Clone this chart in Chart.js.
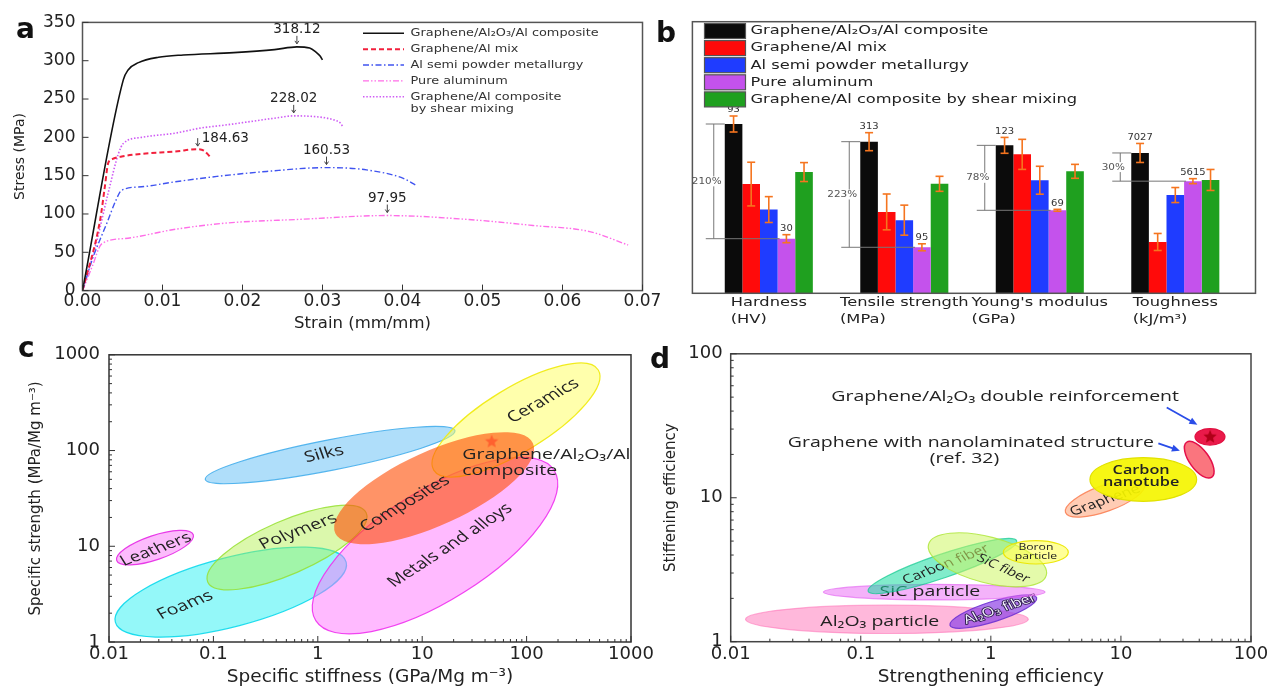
<!DOCTYPE html>
<html>
<head>
<meta charset="utf-8">
<title>Graphene/Al₂O₃/Al composite – mechanical properties</title>
<script src="https://cdn.jsdelivr.net/npm/chart.js@4.4.1/dist/chart.umd.min.js"></script>
<style>
  html, body { margin: 0; padding: 0; background: #fff; }
  body { position: relative; width: 1272px; height: 688px; overflow: hidden; }
  canvas { position: absolute; }
</style>
</head>
<body>
<canvas id="panelA" width="665" height="338" style="left:0px;top:0px"></canvas>
<canvas id="panelB" width="627" height="335" style="left:645px;top:0px"></canvas>
<canvas id="panelC" width="665" height="353" style="left:0px;top:335px"></canvas>
<canvas id="panelD" width="627" height="353" style="left:645px;top:335px"></canvas>
<script>
// ---------------- (a) stress–strain curves ----------------
const strainTicks = [0, 0.01, 0.02, 0.03, 0.04, 0.05, 0.06, 0.07];
const stressTicks = [0, 50, 100, 150, 200, 250, 300, 350];
const curveLegend = [
  ['Graphene/Al₂O₃/Al composite'],
  ['Graphene/Al mix'],
  ['Al semi powder metallurgy'],
  ['Pure aluminum'],
  ['Graphene/Al composite', 'by shear mixing']
];
const compositeStrain = [0, 0.0051, 0.0057, 0.0070, 0.0095, 0.0126, 0.0189, 0.0240, 0.0284, 0.0292, 0.0297, 0.0300];
const compositeStress = [0, 275, 288, 297.5, 304.5, 307.5, 310.5, 314.5, 316.5, 311, 306, 301];
const mixStrain = [0, 0.0022, 0.0028, 0.0032, 0.0037, 0.0049, 0.0074, 0.0116, 0.0152, 0.0157, 0.0160];
const mixStress = [0, 92, 136, 166, 171.5, 175, 178.5, 181.5, 182.5, 177.5, 174];
const semiPmStrain = [0, 0.0012, 0.0032, 0.0041, 0.0049, 0.0074, 0.0116, 0.0168, 0.0230, 0.0355, 0.0401, 0.0416];
const semiPmStress = [0, 40, 92, 116, 131, 135.5, 142, 149, 155.5, 157.5, 146.5, 138];
const pureAlStrain = [0, 0.0012, 0.0024, 0.0053, 0.0116, 0.0178, 0.0272, 0.0480, 0.0563, 0.0634, 0.0682];
const pureAlStress = [0, 31, 61, 68, 80, 88, 93, 93, 85, 77, 59.5];
const shearStrain = [0, 0.0016, 0.0032, 0.0045, 0.0051, 0.0074, 0.0116, 0.0147, 0.0178, 0.0209, 0.0240, 0.0300, 0.0315, 0.0322, 0.0326];
const shearStress = [0, 57, 127, 179, 192, 200, 205.5, 212, 216, 220.5, 225, 226, 222.5, 219, 213];
// ultimate tensile strength of each curve (same order as the legend)
const peakStrain = [0.0268, 0.0144, 0.0305, 0.0381, 0.0264];
const peakStress = [318.12, 184.63, 160.53, 97.95, 228.02];

// ---------------- (b) property comparison ----------------
const propLabels = [['Hardness', '(HV)'], ['Tensile strength', '(MPa)'], ["Young's modulus", '(GPa)'], ['Toughness', '(kJ/m³)']];
const propFullScale = [149.2, 560.7, 225.8, 13600];   // value that fills the panel height, per property
const sampleNames = ['Graphene/Al₂O₃/Al composite', 'Graphene/Al mix', 'Al semi powder metallurgy', 'Pure aluminum', 'Graphene/Al composite by shear mixing'];
const valGrapheneAl2O3Al = [93, 313, 123, 7027];
const valGrapheneAlMix = [60, 168, 115.5, 2570];
const valAlSemiPM = [46, 151, 94, 4920];
const valPureAl = [30, 95, 69, 5615];
const valShearMix = [66.6, 226, 101.4, 5675];
const errGrapheneAl2O3Al = [4.4, 18.6, 6.6, 476];
const errGrapheneAlMix = [12, 37, 12.5, 426];
const errAlSemiPM = [7.1, 31, 11.6, 376];
const errPureAl = [2.2, 7.2, 0.8, 125];
const errShearMix = [5.2, 15.5, 5.8, 526];
const gainLabels = ['210%', '223%', '78%', '30%'];

// ---------------- (c) Ashby map ----------------
const stiffTicks = [0.01, 0.1, 1, 10, 100, 1000];
const strengthTicks = [1, 10, 100, 1000];
const familyNames = ['Foams', 'Polymers', 'Leathers', 'Silks', 'Metals and alloys', 'Ceramics', 'Composites'];
const familyFrom = [[0.0115, 1.61], [0.0882, 4.24], [0.01185, 7.10], [0.0836, 49.9], [0.957, 1.67], [12.9, 62.5], [1.47, 13.7]];
const familyTo = [[1.87, 6.84], [2.91, 22.2], [0.0642, 13.2], [20.6, 161], [184, 61.8], [486, 694], [115, 119]];
const familyWidth = [0.29, 0.31, 0.30, 0.12, 0.39, 0.33, 0.34];
const familyLabelAt = [[0.0535, 2.42], [0.65, 14.3], [0.0281, 9.25], [1.15, 91.8], [18.5, 10.2], [144.5, 331], [6.84, 27.8]];
const compositePoint = [46.3, 124];
const compositeLabel = ['Graphene/Al₂O₃/Al', 'composite'];
const compositeLabelAt = [24.2, 89.7];

// ---------------- (d) reinforcement efficiency ----------------
const effXTicks = [0.01, 0.1, 1, 10, 100];
const effYTicks = [1, 10, 100];
const reinfNames = ['Al₂O₃ particle', 'Al₂O₃ fiber', 'SiC particle', 'Carbon fiber', 'SiC fiber', 'Boron\nparticle', 'Graphene', 'Carbon\nnanotube', 'Graphene with nanolaminated structure', 'Graphene/Al₂O₃ double reinforcement'];
const reinfFrom = [[0.0130, 1.43], [0.485, 1.30], [0.0516, 2.21], [0.114, 2.24], [0.332, 4.74], [1.247, 4.18], [3.75, 7.89], [5.78, 13.4], [32.0, 24.3], [37.1, 26.5]];
const reinfTo = [[1.94, 1.43], [2.25, 2.02], [2.61, 2.21], [1.58, 5.02], [2.67, 2.90], [3.94, 4.18], [15.2, 12.4], [38.2, 13.4], [50.0, 13.9], [63.1, 26.5]];
const reinfWidth = [0.10, 0.22, 0.07, 0.15, 0.377, 0.36, 0.31, 0.41, 0.45, 0.55];
const reinfLabelAt = [[0.140, 1.38], [1.175, 1.69], [0.340, 2.21], [0.451, 3.44], [1.246, 3.22], [2.22, 4.18], [7.55, 9.57], [14.3, 14.1], null, null];
const doublePoint = [48.5, 26.5];
const noteText = ['Graphene/Al₂O₃ double reinforcement', 'Graphene with nanolaminated structure', '(ref. 32)'];
const noteAt = [[1.288, 50.1], [0.702, 24.3], [0.627, 18.7]];
const arrowFrom = [[22.5, 42.4], [19.4, 23.9]];
const arrowTo = [[38.7, 32.2], [28.4, 21.2]];

// ================= drawing helpers =================
const DV = '"DejaVu Sans", sans-serif';
const OS = '"Open Sans", sans-serif';
Chart.defaults.font.family = DV;
Chart.defaults.color = '#222';
Chart.defaults.animation = false;
Chart.defaults.events = [];

// text with optional horizontal stretch (sx) and rotation (rot, on-page angle)
function txt(ctx, text, x, y, o) {
  const lines = Array.isArray(text) ? text : [text];
  const lh = o.lh || 0, sx = o.sx || 1;
  ctx.save();
  ctx.font = o.font;
  ctx.fillStyle = o.color || '#222';
  ctx.textAlign = o.align || 'center';
  ctx.textBaseline = o.base || 'middle';
  ctx.translate(x, y);
  ctx.scale(sx, 1);
  if (o.rot) ctx.rotate(Math.atan2(sx * Math.sin(o.rot), Math.cos(o.rot)));
  lines.forEach((ln, k) => {
    const dy = (k - (lines.length - 1) / 2) * lh;
    if (o.stroke) { ctx.strokeStyle = o.stroke; ctx.lineWidth = o.strokeWidth || 1; ctx.lineJoin = 'round'; ctx.strokeText(ln, 0, dy); }
    ctx.fillText(ln, 0, dy);
  });
  ctx.restore();
}
function textWidth(ctx, text, font, sx) {
  ctx.save(); ctx.font = font; const w = ctx.measureText(text).width * (sx || 1); ctx.restore(); return w;
}
function seg(ctx, x1, y1, x2, y2) { ctx.beginPath(); ctx.moveTo(x1, y1); ctx.lineTo(x2, y2); ctx.stroke(); }
function frame(chart, color, exL, exR) {
  const { ctx, chartArea: ca } = chart;
  ctx.save(); ctx.strokeStyle = color; ctx.lineWidth = 1.5;
  ctx.strokeRect(ca.left - (exL || 0), ca.top, ca.width + (exL || 0) + (exR || 0), ca.height);
  ctx.restore();
}
function inwardTicks(chart, logMinor) {
  const { ctx, chartArea: ca, scales: { x, y } } = chart;
  ctx.save(); ctx.strokeStyle = '#333'; ctx.lineWidth = 1;
  x.ticks.forEach(t => { const p = x.getPixelForValue(t.value); seg(ctx, p, ca.bottom, p, ca.bottom - 6); });
  y.ticks.forEach(t => { const p = y.getPixelForValue(t.value); seg(ctx, ca.left, p, ca.left + 6, p); });
  if (logMinor) {
    [[x, true], [y, false]].forEach(([s, hor]) => {
      for (let e = Math.floor(Math.log10(s.min)); e < Math.log10(s.max); e++) {
        for (let k = 2; k < 10; k++) {
          const v = k * Math.pow(10, e);
          if (v <= s.min || v >= s.max) continue;
          const p = s.getPixelForValue(v);
          if (hor) seg(ctx, p, ca.bottom, p, ca.bottom - 3); else seg(ctx, ca.left, p, ca.left + 3, p);
        }
      }
    });
  }
  ctx.restore();
}
function letter(ctx, ch, x, y) {
  txt(ctx, ch, x, y, { font: 'bold 28px ' + DV, align: 'left', base: 'alphabetic', color: '#111' });
}
function starImg(color, r) {
  const c = document.createElement('canvas');
  c.width = c.height = 2 * r + 2;
  const g = c.getContext('2d');
  g.fillStyle = color; g.beginPath();
  for (let k = 0; k < 10; k++) {
    const rr = k % 2 ? r * 0.45 : r, t = -Math.PI / 2 + k * Math.PI / 5;
    const px = r + 1 + rr * Math.cos(t), py = r + 1 + rr * Math.sin(t);
    if (k) g.lineTo(px, py); else g.moveTo(px, py);
  }
  g.closePath(); g.fill();
  return c;
}
// property regions drawn as ellipses between two data points (major axis) with a width ratio
function drawRegions(chart, from, to, width, labelAt, names, styles) {
  const { ctx, chartArea: ca, scales: { x, y } } = chart;
  ctx.save();
  ctx.beginPath(); ctx.rect(ca.left, ca.top, ca.width, ca.height); ctx.clip();
  names.forEach((name, i) => {
    const st = styles[i];
    const x1 = x.getPixelForValue(from[i][0]), y1 = y.getPixelForValue(from[i][1]);
    const x2 = x.getPixelForValue(to[i][0]), y2 = y.getPixelForValue(to[i][1]);
    const a = Math.hypot(x2 - x1, y2 - y1) / 2, ang = Math.atan2(y2 - y1, x2 - x1);
    ctx.beginPath();
    ctx.ellipse((x1 + x2) / 2, (y1 + y2) / 2, a, a * width[i], ang, 0, 2 * Math.PI);
    ctx.fillStyle = st.fill; ctx.fill();
    if (st.stroke) { ctx.strokeStyle = st.stroke; ctx.lineWidth = st.lw || 1.2; ctx.stroke(); }
    if (labelAt[i]) {
      txt(ctx, name.split('\n'), x.getPixelForValue(labelAt[i][0]), y.getPixelForValue(labelAt[i][1]), {
        font: (st.weight || 400) + ' ' + st.size + 'px ' + OS, sx: 1.3, lh: st.lh || 0,
        rot: ang + (st.tilt || 0) * Math.PI / 180, color: st.color || '#222',
        stroke: st.outline, strokeWidth: 1.6
      });
    }
  });
  ctx.restore();
}

// ================= (a) =================
const curveStyles = [
  { color: '#111111', width: 1.6, dash: [] },
  { color: '#f2203c', width: 2, dash: [5, 3] },
  { color: '#4054f0', width: 1.4, dash: [6, 2.5, 1.5, 2.5] },
  { color: '#ff6ee8', width: 1.4, dash: [6, 2, 1.5, 2, 1.5, 2] },
  { color: '#cf5cf5', width: 1.6, dash: [1.5, 1.8] }
];
const curveSeries = [
  [compositeStrain, compositeStress], [mixStrain, mixStress], [semiPmStrain, semiPmStress],
  [pureAlStrain, pureAlStress], [shearStrain, shearStress]
];
const panelA = {
  id: 'panelA',
  afterDatasetsDraw(chart) {
    const { ctx, chartArea: ca, scales: { x, y } } = chart;
    frame(chart, '#555');
    inwardTicks(chart, false);
    // legend
    chart.data.datasets.forEach((ds, i) => {
      const ly = ca.top + 10.9 + i * 15.85;
      ctx.save(); ctx.strokeStyle = ds.borderColor; ctx.lineWidth = ds.borderWidth; ctx.setLineDash(ds.borderDash);
      seg(ctx, ca.left + 280.5, ly, ca.left + 321.5, ly); ctx.restore();
      curveLegend[i].forEach((ln, k) => txt(ctx, ln, ca.left + 328, ly + k * 12.6,
        { font: '11.2px ' + DV, align: 'left', sx: 1.15, color: '#333' }));
    });
    // ultimate strength markers
    ctx.save(); ctx.strokeStyle = '#444'; ctx.lineWidth = 1;
    peakStress.forEach((v, i) => {
      const px = x.getPixelForValue(peakStrain[i]), py = y.getPixelForValue(v);
      seg(ctx, px, py - 11, px, py - 3);
      ctx.beginPath(); ctx.moveTo(px - 2, py - 6); ctx.lineTo(px, py - 3); ctx.lineTo(px + 2, py - 6); ctx.stroke();
      const label = v.toFixed(2);
      if (i === 1) txt(ctx, label, px + 4, py - 7, { font: '13.5px ' + DV, align: 'left', base: 'alphabetic' });
      else txt(ctx, label, px, py - 13.5, { font: '13.5px ' + DV, base: 'alphabetic' });
    });
    ctx.restore();
    letter(ctx, 'a', 16, 38);
  }
};
new Chart(document.getElementById('panelA'), {
  type: 'line',
  data: {
    datasets: curveSeries.map(([sx, sy], i) => {
      const pts = sx.map((s, k) => ({ x: s, y: sy[k] }));
      pts.push({ x: peakStrain[i], y: peakStress[i] });
      pts.sort((p, q) => p.x - q.x);
      return {
        label: curveLegend[i].join(' '), data: pts,
        borderColor: curveStyles[i].color, borderWidth: curveStyles[i].width, borderDash: curveStyles[i].dash,
        pointRadius: 0, fill: false, cubicInterpolationMode: 'monotone'
      };
    })
  },
  options: {
    responsive: false,
    layout: { padding: { left: 0, top: 22.4, right: 22.5, bottom: 0 } },
    scales: {
      x: {
        type: 'linear', min: 0, max: 0.07,
        afterBuildTicks: s => { s.ticks = strainTicks.map(v => ({ value: v })); },
        afterFit: s => { s.height = 47.4; },
        grid: { display: false, drawTicks: false }, border: { display: false },
        ticks: { font: { size: 17 }, padding: 1, maxRotation: 0, autoSkip: false, callback: v => v.toFixed(2) },
        title: { display: true, text: 'Strain (mm/mm)', font: { size: 16.5 }, padding: { top: 0, bottom: 4 } }
      },
      y: {
        min: 0, max: 350,
        afterBuildTicks: s => { s.ticks = stressTicks.map(v => ({ value: v })); },
        afterFit: s => { s.width = 82.5; },
        grid: { display: false, drawTicks: false }, border: { display: false },
        ticks: { font: { size: 17 }, padding: 7, autoSkip: false, callback: v => String(v) },
        title: { display: true, text: 'Stress (MPa)', font: { size: 14 }, padding: { top: 12, bottom: 0 } }
      }
    },
    plugins: { legend: { display: false }, tooltip: { enabled: false } }
  },
  plugins: [panelA]
});

// ================= (b) =================
const barColors = ['#0b0b0b', '#ff0a0a', '#1f3cff', '#c452ec', '#1fa01f'];
const barValues = [valGrapheneAl2O3Al, valGrapheneAlMix, valAlSemiPM, valPureAl, valShearMix];
const barErrors = [errGrapheneAl2O3Al, errGrapheneAlMix, errAlSemiPM, errPureAl, errShearMix];
const panelB = {
  id: 'panelB',
  afterDatasetsDraw(chart) {
    const { ctx, chartArea: ca, scales: { x, y } } = chart;
    // error bars
    ctx.save(); ctx.strokeStyle = '#f5751f'; ctx.lineWidth = 1.6;
    barValues.forEach((vals, s) => {
      chart.getDatasetMeta(s).data.forEach((bar, i) => {
        const v = vals[i] / propFullScale[i], e = barErrors[s][i] / propFullScale[i];
        const t = y.getPixelForValue(v + e), b = y.getPixelForValue(v - e);
        seg(ctx, bar.x, t, bar.x, b);
        seg(ctx, bar.x - 4, t, bar.x + 4, t);
        seg(ctx, bar.x - 4, b, bar.x + 4, b);
      });
    });
    ctx.restore();
    // gain brackets between the composite and pure aluminium
    const m0 = chart.getDatasetMeta(0).data, m3 = chart.getDatasetMeta(3).data;
    ctx.save(); ctx.strokeStyle = '#777'; ctx.lineWidth = 1;
    m0.forEach((b0, i) => {
      const b3 = m3[i], x0 = b0.x - b0.width / 2;
      seg(ctx, x0 - 11, b0.y, x0 - 11, b3.y);
      seg(ctx, x0 - 19, b0.y, x0, b0.y);
      seg(ctx, x0 - 19, b3.y, b3.x - b3.width / 2 + 2, b3.y);
      const cy = (b0.y + b3.y) / 2, f = '9.5px ' + DV;
      const w = textWidth(ctx, gainLabels[i], f, 1.1);
      ctx.fillStyle = '#fff'; ctx.fillRect(x0 - 18 - w / 2, cy - 5, w, 10);
      txt(ctx, gainLabels[i], x0 - 18, cy, { font: f, sx: 1.1, color: '#555' });
    });
    ctx.restore();
    // value labels
    [0, 3].forEach(s => {
      chart.getDatasetMeta(s).data.forEach((bar, i) => {
        const top = y.getPixelForValue((barValues[s][i] + barErrors[s][i]) / propFullScale[i]);
        txt(ctx, String(barValues[s][i]), bar.x, top - 6, { font: '9.5px ' + DV, sx: 1.05, color: '#333' });
      });
    });
  },
  afterDraw(chart) {
    const { ctx, chartArea: ca, scales: { x } } = chart;
    frame(chart, '#555', 8.65, 12.45);
    // legend
    chart.data.datasets.forEach((ds, i) => {
      const cy = ca.top + 9.3 + i * 17.1, bx = ca.left + 3.45;
      ctx.save();
      ctx.fillStyle = ds.backgroundColor; ctx.fillRect(bx, cy - 7.5, 41, 15);
      ctx.strokeStyle = '#555'; ctx.lineWidth = 1.2; ctx.strokeRect(bx, cy - 7.5, 41, 15);
      ctx.restore();
      txt(ctx, ds.label, bx + 46, cy, { font: '13px ' + DV, align: 'left', sx: 1.25, color: '#222' });
    });
    // category labels: first line centred on the group, second line aligned with it
    propLabels.forEach((lines, i) => {
      const f = '13px ' + DV, cx = x.getPixelForValue(i);
      const left = cx - textWidth(ctx, lines[0], f, 1.25) / 2;
      txt(ctx, lines[0], left, ca.bottom + 9, { font: f, align: 'left', sx: 1.25 });
      txt(ctx, lines[1], left, ca.bottom + 26, { font: f, align: 'left', sx: 1.25 });
    });
    letter(ctx, 'b', 11, 42);
  }
};
new Chart(document.getElementById('panelB'), {
  type: 'bar',
  data: {
    labels: propLabels.map(p => p.join(' ')),
    datasets: barValues.map((vals, s) => ({
      label: sampleNames[s],
      data: vals.map((v, i) => v / propFullScale[i]),
      backgroundColor: barColors[s], borderWidth: 0,
      categoryPercentage: 0.65, barPercentage: 1
    }))
  },
  options: {
    responsive: false,
    layout: { padding: { left: 56.05, right: 28.95, top: 21.7, bottom: 41.7 } },
    scales: { x: { display: false, offset: true }, y: { display: false, min: 0, max: 1 } },
    plugins: { legend: { display: false }, tooltip: { enabled: false } }
  },
  plugins: [panelB]
});

// ================= (c) =================
const familyStyle = [
  { fill: 'rgba(0,238,240,0.42)', stroke: 'rgba(0,215,235,0.85)', size: 15, tilt: -7 },
  { fill: 'rgba(175,240,70,0.45)', stroke: 'rgba(150,225,50,0.85)', size: 15, tilt: 3 },
  { fill: 'rgba(250,120,250,0.5)', stroke: 'rgba(230,40,230,0.9)', size: 14.5, tilt: -2 },
  { fill: 'rgba(95,190,245,0.5)', stroke: 'rgba(60,170,235,0.85)', size: 15, tilt: -1 },
  { fill: 'rgba(255,110,255,0.48)', stroke: 'rgba(240,50,240,0.9)', size: 15, tilt: -1 },
  { fill: 'rgba(255,255,90,0.5)', stroke: 'rgba(240,235,20,0.95)', size: 15, tilt: 2 },
  { fill: 'rgba(255,80,10,0.62)', stroke: null, size: 15, tilt: -6 }
];
const logTickLabel = v => String(v);
const panelC = {
  id: 'panelC',
  beforeDatasetsDraw(chart) {
    drawRegions(chart, familyFrom, familyTo, familyWidth, familyLabelAt, familyNames, familyStyle);
  },
  afterDatasetsDraw(chart) {
    const { ctx, scales: { x, y } } = chart;
    const lx = x.getPixelForValue(compositeLabelAt[0]), ly = y.getPixelForValue(compositeLabelAt[1]);
    compositeLabel.forEach((ln, k) => txt(ctx, ln, lx, ly + k * 15.5, { font: '15px ' + OS, align: 'left', sx: 1.3, color: '#222' }));
    frame(chart, '#333');
    inwardTicks(chart, true);
    letter(ctx, 'c', 18, 22);
  }
};
new Chart(document.getElementById('panelC'), {
  type: 'scatter',
  data: {
    datasets: [{
      label: 'Graphene/Al₂O₃/Al composite',
      data: [{ x: compositePoint[0], y: compositePoint[1] }],
      pointStyle: starImg('rgba(255,80,40,0.75)', 7)
    }]
  },
  options: {
    responsive: false,
    layout: { padding: { left: 0, top: 12, right: 34, bottom: 0 } },
    scales: {
      x: {
        type: 'logarithmic', min: 0.01, max: 1000,
        afterBuildTicks: s => { s.ticks = stiffTicks.map(v => ({ value: v })); },
        afterFit: s => { s.height = 46; },
        grid: { display: false, drawTicks: false }, border: { display: false },
        ticks: { font: { size: 18 }, padding: 2, maxRotation: 0, autoSkip: false, callback: logTickLabel },
        title: { display: true, text: 'Specific stiffness (GPa/Mg m⁻³)', font: { size: 18.5 }, padding: { top: 0, bottom: 0 } }
      },
      y: {
        type: 'logarithmic', min: 1, max: 1000,
        afterBuildTicks: s => { s.ticks = strengthTicks.map(v => ({ value: v })); },
        afterFit: s => { s.width = 109; },
        grid: { display: false, drawTicks: false }, border: { display: false },
        ticks: { font: { size: 18 }, padding: 9, autoSkip: false, callback: logTickLabel },
        title: { display: true, text: 'Specific strength (MPa/Mg m⁻³)', font: { size: 15 }, padding: { top: 26.7, bottom: 0 } }
      }
    },
    plugins: { legend: { display: false }, tooltip: { enabled: false } }
  },
  plugins: [panelC]
});

// ================= (d) =================
const reinfStyle = [
  { fill: 'rgba(255,125,190,0.55)', stroke: 'rgba(255,110,180,0.55)', size: 15 },
  { fill: 'rgba(145,70,230,0.72)', stroke: 'rgba(110,50,210,0.9)', size: 12.5, tilt: -1, color: '#f4f0ff', outline: '#2a1a4a' },
  { fill: 'rgba(235,115,245,0.55)', stroke: 'rgba(225,90,240,0.6)', size: 15 },
  { fill: 'rgba(25,220,160,0.55)', stroke: 'rgba(10,200,140,0.7)', size: 12.5, tilt: -3 },
  { fill: 'rgba(205,245,100,0.55)', stroke: 'rgba(175,230,60,0.85)', size: 11.7, tilt: 10 },
  { fill: 'rgba(255,255,70,0.55)', stroke: 'rgba(235,230,0,0.95)', size: 9.4, lh: 9 },
  { fill: 'rgba(255,170,130,0.6)', stroke: 'rgba(250,125,80,0.85)', size: 12.5 },
  { fill: 'rgba(245,245,0,0.92)', stroke: 'rgba(225,225,0,1)', size: 12.5, lh: 12, weight: 600 },
  { fill: 'rgba(250,105,115,0.92)', stroke: '#e4104a', lw: 1.5 },
  { fill: '#ea1a4a', stroke: '#e01040' }
];
const panelD = {
  id: 'panelD',
  beforeDatasetsDraw(chart) {
    drawRegions(chart, reinfFrom, reinfTo, reinfWidth, reinfLabelAt, reinfNames, reinfStyle);
  },
  afterDatasetsDraw(chart) {
    const { ctx, scales: { x, y } } = chart;
    noteText.forEach((t, i) => txt(ctx, t, x.getPixelForValue(noteAt[i][0]), y.getPixelForValue(noteAt[i][1]),
      { font: '15px ' + OS, sx: 1.3, color: '#222' }));
    ctx.save(); ctx.strokeStyle = '#2a4de8'; ctx.fillStyle = '#2a4de8'; ctx.lineWidth = 1.8;
    arrowFrom.forEach((p, i) => {
      const x1 = x.getPixelForValue(p[0]), y1 = y.getPixelForValue(p[1]);
      const x2 = x.getPixelForValue(arrowTo[i][0]), y2 = y.getPixelForValue(arrowTo[i][1]);
      const ang = Math.atan2(y2 - y1, x2 - x1);
      seg(ctx, x1, y1, x2 - 5 * Math.cos(ang), y2 - 5 * Math.sin(ang));
      ctx.beginPath(); ctx.moveTo(x2, y2);
      ctx.lineTo(x2 - 8 * Math.cos(ang) + 3.5 * Math.sin(ang), y2 - 8 * Math.sin(ang) - 3.5 * Math.cos(ang));
      ctx.lineTo(x2 - 8 * Math.cos(ang) - 3.5 * Math.sin(ang), y2 - 8 * Math.sin(ang) + 3.5 * Math.cos(ang));
      ctx.closePath(); ctx.fill();
    });
    ctx.restore();
    frame(chart, '#444');
    inwardTicks(chart, true);
    letter(ctx, 'd', 5, 33);
  }
};
new Chart(document.getElementById('panelD'), {
  type: 'scatter',
  data: {
    datasets: [{
      label: 'Graphene/Al₂O₃ double reinforcement',
      data: [{ x: doublePoint[0], y: doublePoint[1] }],
      pointStyle: starImg('#b00018', 7)
    }]
  },
  options: {
    responsive: false,
    layout: { padding: { left: 0, top: 11.7, right: 21, bottom: 0 } },
    scales: {
      x: {
        type: 'logarithmic', min: 0.01, max: 100,
        afterBuildTicks: s => { s.ticks = effXTicks.map(v => ({ value: v })); },
        afterFit: s => { s.height = 46.3; },
        grid: { display: false, drawTicks: false }, border: { display: false },
        ticks: { font: { size: 18 }, padding: 2, maxRotation: 0, autoSkip: false, callback: logTickLabel },
        title: { display: true, text: 'Strengthening efficiency', font: { size: 18.5 }, padding: { top: 0, bottom: 0 } }
      },
      y: {
        type: 'logarithmic', min: 1, max: 100,
        afterBuildTicks: s => { s.ticks = effYTicks.map(v => ({ value: v })); },
        afterFit: s => { s.width = 85.7; },
        grid: { display: false, drawTicks: false }, border: { display: false },
        ticks: { font: { size: 18 }, padding: 8, autoSkip: false, callback: logTickLabel },
        title: { display: true, text: 'Stiffening efficiency', font: { size: 15 }, padding: { top: 17.2, bottom: 0 } }
      }
    },
    plugins: { legend: { display: false }, tooltip: { enabled: false } }
  },
  plugins: [panelD]
});
</script>
</body>
</html>
